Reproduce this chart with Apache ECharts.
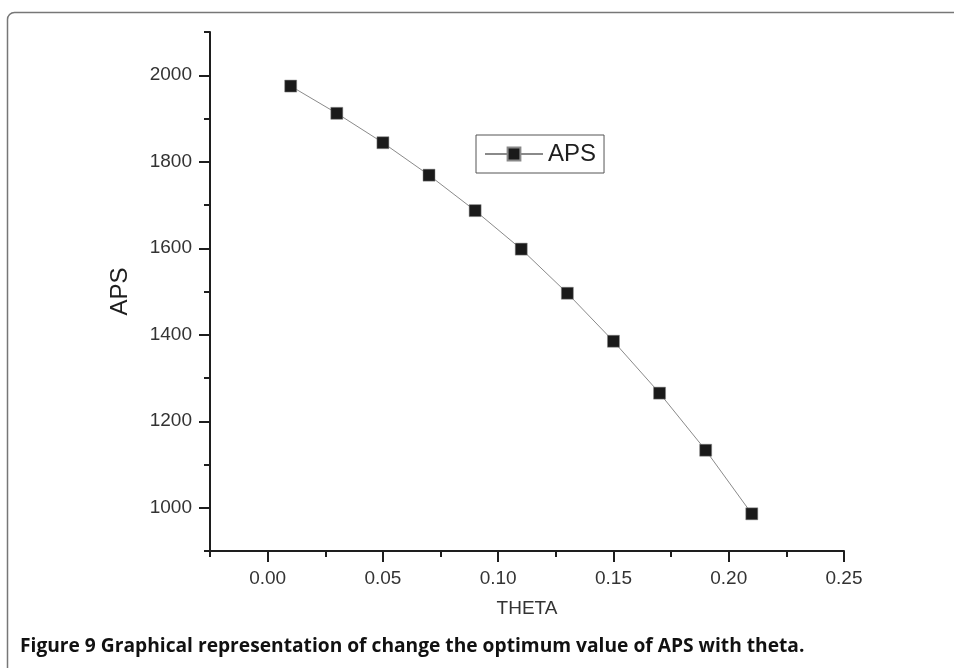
<!DOCTYPE html>
<html><head><meta charset="utf-8">
<script src="https://cdn.jsdelivr.net/npm/echarts@6/dist/echarts.min.js"></script>
<style>html,body{margin:0;padding:0;background:#fff}#c{width:954px;height:668px}</style>
</head><body><div id="c"></div>
<script>
var theta = [0.01, 0.03, 0.05, 0.07, 0.09, 0.11, 0.13, 0.15, 0.17, 0.19, 0.21];
var aps = [1975, 1912, 1844, 1769, 1687, 1598, 1496, 1385, 1265, 1133, 986];
var xMajor = [0, 0.05, 0.10, 0.15, 0.20, 0.25];
var xMinor = [-0.025, 0.025, 0.075, 0.125, 0.175, 0.225];
var yMajor = [1000, 1200, 1400, 1600, 1800, 2000];
var yMinor = [900, 1100, 1300, 1500, 1700, 1900, 2100];
var seriesName = 'APS';
var xName = 'THETA';
var yName = 'APS';
var caption = 'Figure 9 Graphical representation of change the optimum value of APS with theta.';

var chart = echarts.init(document.getElementById('c'));
var font = 'Liberation Sans, Arial, sans-serif';
var axisCol = '#1e1e1e';
var grid = {left: 210, right: 110, top: 32, bottom: 117};
chart.setOption({
  animation: false,
  backgroundColor: '#fff',
  grid: [grid],
  legend: {
    data: [seriesName], left: 476, top: 135,
    padding: [6, 8, 6, 8], borderColor: '#555', borderWidth: 1,
    itemWidth: 58, itemHeight: 16, itemGap: 8,
    textStyle: {fontFamily: font, fontSize: 24, color: '#1e1e1e', lineHeight: 26}
  },
  xAxis: [{
    type: 'value', min: -0.025, max: 0.25, gridIndex: 0,
    name: xName, nameLocation: 'middle', nameGap: 48,
    nameTextStyle: {fontFamily: font, fontSize: 19, color: '#333'},
    axisLine: {onZero: false, lineStyle: {color: axisCol, width: 2}},
    axisTick: {customValues: xMajor, length: 11, lineStyle: {color: axisCol, width: 2}},
    axisLabel: {customValues: xMajor, margin: 18, fontFamily: font, fontSize: 19, color: '#333',
      formatter: function (v) { return v.toFixed(2); }},
    splitLine: {show: false}
  }, {
    type: 'value', min: -0.025, max: 0.25, gridIndex: 0, position: 'bottom',
    axisLine: {show: false, onZero: false},
    axisTick: {customValues: xMinor, length: 6, lineStyle: {color: axisCol, width: 2}},
    axisLabel: {show: false}, splitLine: {show: false}
  }],
  yAxis: [{
    type: 'value', min: 900, max: 2100, gridIndex: 0,
    name: yName, nameLocation: 'middle', nameGap: 78, nameRotate: 90,
    nameTextStyle: {fontFamily: font, fontSize: 24, color: '#1e1e1e'},
    axisLine: {onZero: false, lineStyle: {color: axisCol, width: 2}},
    axisTick: {customValues: yMajor, length: 11, lineStyle: {color: axisCol, width: 2}},
    axisLabel: {customValues: yMajor, margin: 18, fontFamily: font, fontSize: 19, color: '#333',
      formatter: function (v) { return String(v); }},
    splitLine: {show: false}
  }, {
    type: 'value', min: 900, max: 2100, gridIndex: 0, position: 'left',
    axisLine: {show: false, onZero: false},
    axisTick: {customValues: yMinor, length: 6, lineStyle: {color: axisCol, width: 2}},
    axisLabel: {show: false}, splitLine: {show: false}
  }],
  series: [{
    name: seriesName, type: 'line', xAxisIndex: 0, yAxisIndex: 0,
    data: theta.map(function (t, i) { return [t, aps[i]]; }),
    symbol: 'rect', symbolSize: 12,
    itemStyle: {color: '#1a1a1a', borderColor: '#888', borderWidth: 0.5},
    lineStyle: {color: '#8a8a8a', width: 1}
  }],
  graphic: [
    {type: 'rect', shape: {x: 7.5, y: 12.5, width: 960, height: 700, r: 7},
      style: {fill: 'none', stroke: '#777', lineWidth: 1.5}, silent: true},
    {type: 'text', left: 20, top: 637,
      style: {text: caption, fontFamily: 'Open Sans, sans-serif', fontWeight: 'bold', fontSize: 19.2, fill: '#111'}}
  ]
});
</script></body></html>
